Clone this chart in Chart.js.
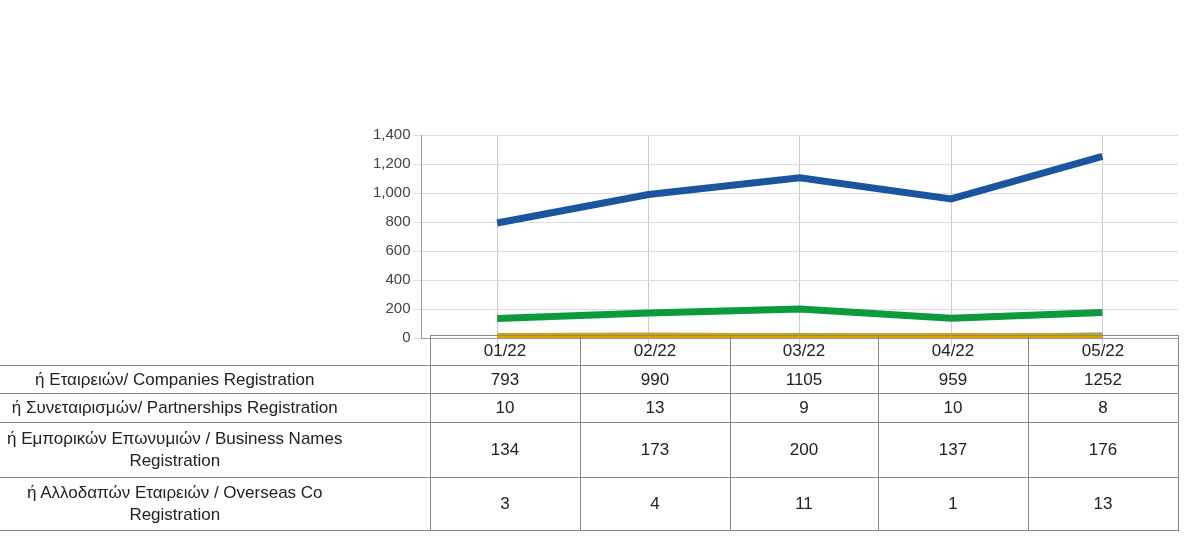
<!DOCTYPE html>
<html><head><meta charset="utf-8">
<script src="https://cdn.jsdelivr.net/npm/chart.js@4"></script>
<style>
body{margin:0;width:1200px;height:536px;overflow:hidden;background:#fff;font-family:"Liberation Sans",Arial,sans-serif;position:relative}
#c{position:absolute;left:0;top:0}
table{position:absolute;left:-80px;top:335px;border-collapse:collapse;font-size:17px;color:#222;table-layout:fixed;width:1258px}
td{border:1px solid #888;text-align:center;padding:0;line-height:22px}
td.l{border-left:none}
</style></head><body>
<canvas id="c" width="1200" height="350"></canvas>
<table id="t"><colgroup><col style="width:510px"><col style="width:150px"><col style="width:150px"><col style="width:148px"><col style="width:150px"><col style="width:150px"></colgroup></table>
<script>
const categories=["01/22","02/22","03/22","04/22","05/22"];
const seriesNames=["ή Εταιρειών/ Companies Registration","ή Συνεταιρισμών/ Partnerships Registration","ή Εμπορικών Επωνυμιών / Business Names<br>Registration","ή Αλλοδαπών Εταιρειών / Overseas Co<br>Registration"];
const companies=[793,990,1105,959,1252];
const partnerships=[10,13,9,10,8];
const businessNames=[134,173,200,137,176];
const overseas=[3,4,11,1,13];
const colors=["#1a55a0","#d9a400","#0c9a3c","#1e9bb0"];
const data=[companies,partnerships,businessNames,overseas];
const rowH=[28,29,55,53];
const t=document.getElementById('t');
let h='<tr style="height:30px"><td class="l" style="border:none;border-right:1px solid #888"></td>'+categories.map(c=>'<td>'+c+'</td>').join('')+'</tr>';
seriesNames.forEach((n,i)=>{h+='<tr style="height:'+rowH[i]+'px"><td class="l">'+n+'</td>'+data[i].map(v=>'<td>'+v+'</td>').join('')+'</tr>';});
t.insertAdjacentHTML('beforeend',h);
new Chart(document.getElementById('c'),{type:'line',
data:{labels:categories,datasets:data.map((d,i)=>({label:seriesNames[i],data:d,borderColor:colors[i],borderWidth:7,pointRadius:0,tension:0}))},
options:{responsive:false,animation:false,devicePixelRatio:1,
layout:{padding:{left:370,right:22,top:135,bottom:0}},
plugins:{legend:{display:false},tooltip:{enabled:false}},
scales:{x:{offset:true,ticks:{display:false},grid:{color:'#ccc'},border:{color:'#999'}},
y:{min:0,max:1400,ticks:{stepSize:200,color:'#444',font:{size:15}},grid:{color:'#ddd'},border:{color:'#999'}}}}});
</script>
</body></html>
